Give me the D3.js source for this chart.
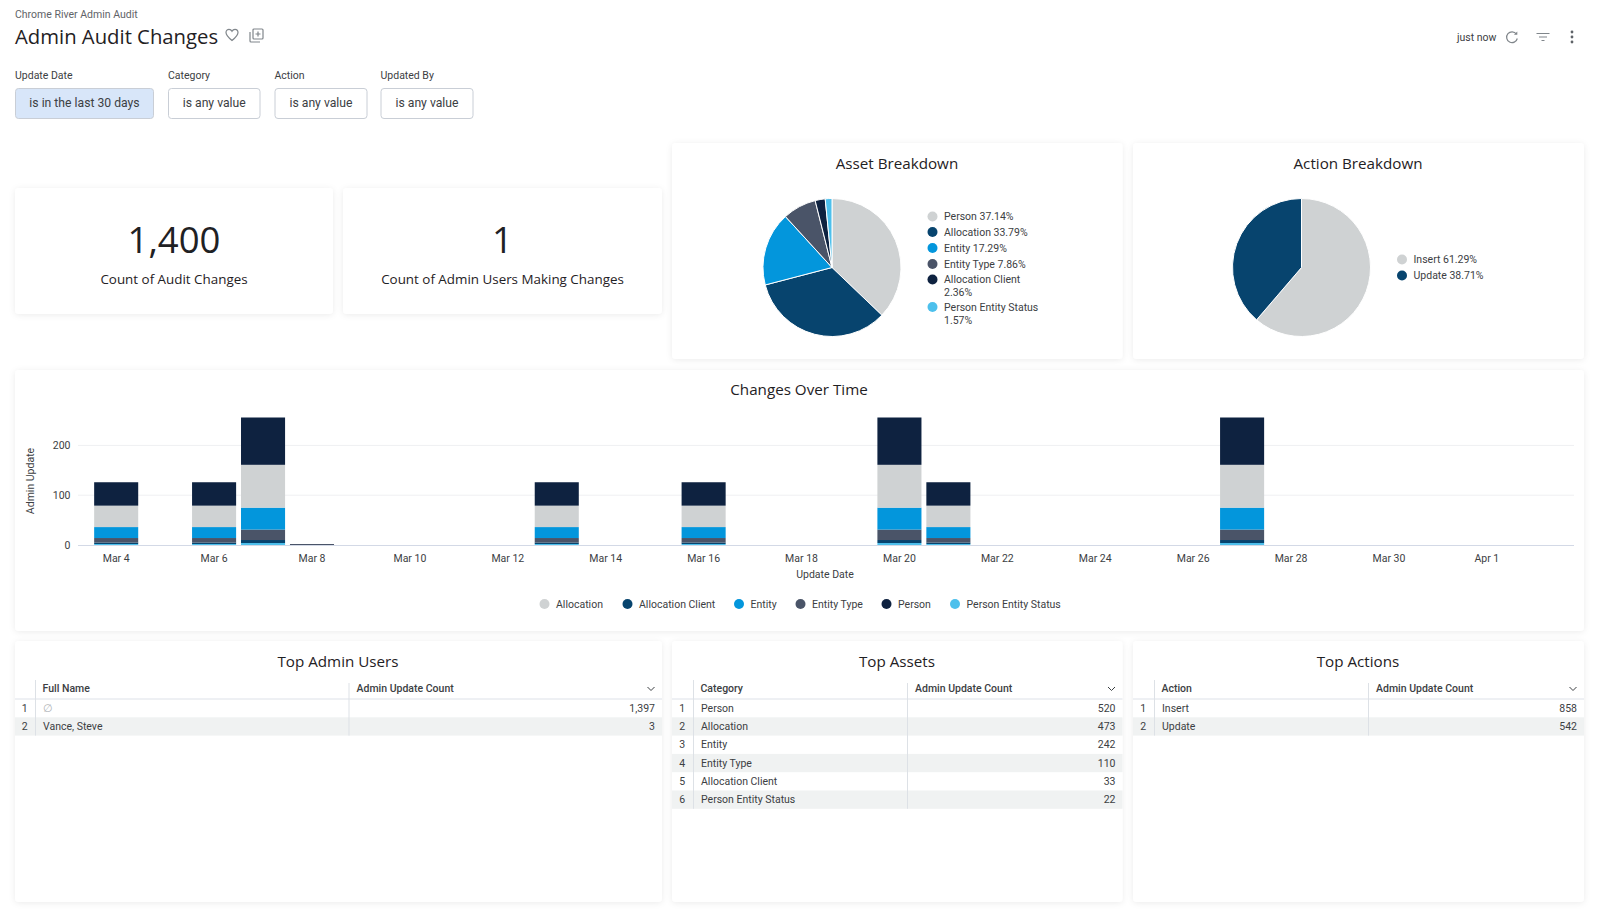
<!DOCTYPE html>
<html>
<head>
<meta charset="utf-8">
<title>Admin Audit Changes</title>
<script src="https://cdn.jsdelivr.net/npm/d3@7"></script>
<style>
  html, body { margin: 0; padding: 0; background: #ffffff; }
  svg { display: block; }
  text { font-family: Roboto, sans-serif; fill: #3c4043; }
  .heading { font-family: "Open Sans", sans-serif; fill: #1f2124; }
</style>
</head>
<body>
<svg id="page" width="1600" height="909"></svg>
<script>
// chart data
const assetCategories = ['Person', 'Allocation', 'Entity', 'Entity Type', 'Allocation Client', 'Person Entity Status'];
const assetCounts = [520, 473, 242, 110, 33, 22];
const actionCategories = ['Insert', 'Update'];
const actionCounts = [858, 542];
const userNames = ['∅', 'Vance, Steve'];
const userCounts = [1397, 3];

const dayLabels = ['Mar 4', 'Mar 5', 'Mar 6', 'Mar 7', 'Mar 8', 'Mar 9', 'Mar 10', 'Mar 11', 'Mar 12', 'Mar 13',
  'Mar 14', 'Mar 15', 'Mar 16', 'Mar 17', 'Mar 18', 'Mar 19', 'Mar 20', 'Mar 21', 'Mar 22', 'Mar 23', 'Mar 24',
  'Mar 25', 'Mar 26', 'Mar 27', 'Mar 28', 'Mar 29', 'Mar 30', 'Mar 31', 'Apr 1', 'Apr 2'];
const barDays = ['Mar 4', 'Mar 6', 'Mar 7', 'Mar 8', 'Mar 13', 'Mar 16', 'Mar 20', 'Mar 21', 'Mar 27'];
const personStatusByDay = [2, 2, 4, 0, 2, 2, 4, 2, 4];
const allocClientByDay = [3, 3, 6, 0, 3, 3, 6, 3, 6];
const entityTypeByDay = [9, 9, 21, 2, 9, 9, 21, 9, 21];
const entityByDay = [22, 22, 44, 0, 22, 22, 44, 22, 44];
const allocationByDay = [43, 43, 86, 0, 43, 43, 86, 43, 86];
const personByDay = [47, 47, 95, 0, 47, 47, 95, 47, 95];
const yTicks = [0, 100, 200];

const legendNames = ['Allocation', 'Allocation Client', 'Entity', 'Entity Type', 'Person', 'Person Entity Status'];
const filterNames = ['Update Date', 'Category', 'Action', 'Updated By'];
const filterValues = ['is in the last 30 days', 'is any value', 'is any value', 'is any value'];

const color = d3.scaleOrdinal()
  .domain(assetCategories)
  .range(['#0e2240', '#cfd2d3', '#0396dc', '#4a5468', '#07446e', '#4dc0ec']);
const pieColors = ['#cfd2d3', '#07446e', '#0396dc', '#4a5468', '#0e2240', '#4dc0ec'];

const svg = d3.select('#page');
const fmt = d3.format(',');

const defs = svg.append('defs');
const shadow = defs.append('filter').attr('id', 'shadow')
  .attr('x', '-3%').attr('y', '-5%').attr('width', '106%').attr('height', '110%');
shadow.append('feDropShadow').attr('dx', 0).attr('dy', 1).attr('stdDeviation', 3)
  .attr('flood-color', '#000').attr('flood-opacity', 0.08);

function card(x, y, w, h) {
  svg.append('rect').attr('x', x).attr('y', y).attr('width', w).attr('height', h)
    .attr('rx', 4).attr('fill', '#fff').attr('filter', 'url(#shadow)');
}

function heading(x, y, label) {
  svg.append('text').attr('class', 'heading').attr('x', x).attr('y', y)
    .attr('text-anchor', 'middle').attr('dominant-baseline', 'central')
    .attr('font-size', 15.2).text(label);
}

// page header
svg.append('text').attr('x', 15).attr('y', 14).attr('dominant-baseline', 'central')
  .attr('font-size', 10.5).style('fill', '#5f6368').text('Chrome River Admin Audit');
svg.append('text').attr('class', 'heading').attr('x', 15).attr('y', 35.5).attr('dominant-baseline', 'central')
  .attr('font-size', 20.3).text('Admin Audit Changes');

const iconStyle = g => g.attr('fill', 'none').attr('stroke', '#80868b').attr('stroke-width', 1.2);
svg.append('path').attr('transform', 'translate(226,29)').call(iconStyle)
  .attr('d', 'M6 11.5 C1 7.5 0 5.5 0 3.5 C0 1.5 1.5 0.3 3 0.3 C4.3 0.3 5.4 1 6 2.2 C6.6 1 7.7 0.3 9 0.3 C10.5 0.3 12 1.5 12 3.5 C12 5.5 11 7.5 6 11.5 Z');
svg.append('g').attr('transform', 'translate(250,29)').call(iconStyle).call(g => {
  g.append('rect').attr('x', 3).attr('y', 0).attr('width', 10).attr('height', 10).attr('rx', 1);
  g.append('path').attr('d', 'M0 3 V12 a1 1 0 0 0 1 1 H10 M8 2.5 V7.5 M5.5 5 H10.5');
});

svg.append('text').attr('x', 1457).attr('y', 37).attr('dominant-baseline', 'central')
  .attr('font-size', 10.5).text('just now');
svg.append('g').attr('transform', 'translate(1512,37)').call(iconStyle).call(g => {
  g.append('path').attr('d', 'M4.4 -3 A5.4 5.4 0 1 0 5.3 1.5');
  g.append('path').attr('d', 'M5.3 -5.6 V-2.2 H1.9 Z').attr('fill', '#80868b').attr('stroke', 'none');
});
svg.append('g').attr('transform', 'translate(1543,37)').call(iconStyle).call(g => {
  g.append('path').attr('d', 'M-6.5 -3.5 H6.5 M-4 0 H4 M-1.5 3.5 H1.5');
});
svg.append('g').attr('transform', 'translate(1572,37)').selectAll('circle').data([-5, 0, 5]).join('circle')
  .attr('cy', d => d).attr('r', 1.4).attr('fill', '#5f6368');

// filter pills
const filterX = [15, 168, 274.5, 380.5];
const filterW = [138, 91.5, 92, 92];
filterNames.forEach((name, i) => {
  svg.append('text').attr('x', filterX[i]).attr('y', 75).attr('dominant-baseline', 'central')
    .attr('font-size', 10.5).text(name);
  svg.append('rect').attr('x', filterX[i] + 0.5).attr('y', 88.5).attr('width', filterW[i]).attr('height', 30)
    .attr('rx', 3).attr('fill', i === 0 ? '#d8e6f9' : '#fff').attr('stroke', '#c9ced6');
  svg.append('text').attr('x', filterX[i] + filterW[i] / 2 + 0.5).attr('y', 103).attr('text-anchor', 'middle')
    .attr('dominant-baseline', 'central').attr('font-size', 12.2).text(filterValues[i]);
});

// single value tiles
function tile(x, w, value, label) {
  card(x, 188, w, 126);
  svg.append('text').attr('class', 'heading').attr('x', x + w / 2).attr('y', 239).attr('text-anchor', 'middle')
    .attr('dominant-baseline', 'central').attr('font-size', 36.5).text(value);
  svg.append('text').attr('class', 'heading').attr('x', x + w / 2).attr('y', 278.5).attr('text-anchor', 'middle')
    .attr('dominant-baseline', 'central').attr('font-size', 13.4).text(label);
}
tile(15, 318, fmt(d3.sum(assetCounts)), 'Count of Audit Changes');
tile(343, 319, '1', 'Count of Admin Users Making Changes');

// pies
function pieChart(cx, cy, names, counts, legendX, legendRows) {
  const total = d3.sum(counts);
  const arcs = d3.pie().sort(null)(counts);
  const arc = d3.arc().innerRadius(0).outerRadius(69);
  svg.append('g').attr('transform', `translate(${cx},${cy})`)
    .selectAll('path').data(arcs).join('path')
    .attr('d', arc).attr('fill', (d, i) => pieColors[i]).attr('stroke', '#fff').attr('stroke-width', 1);

  const pct = d3.format('.2f');
  names.forEach((name, i) => {
    const row = legendRows[i];
    const label = `${name} ${pct(counts[i] / total * 100)}%`;
    svg.append('circle').attr('cx', legendX).attr('cy', row.y).attr('r', 5).attr('fill', pieColors[i]);
    if (row.wrap) {
      svg.append('text').attr('x', legendX + 11.5).attr('y', row.y).attr('dominant-baseline', 'central')
        .attr('font-size', 10.5).text(name);
      svg.append('text').attr('x', legendX + 11.5).attr('y', row.y + 13).attr('dominant-baseline', 'central')
        .attr('font-size', 10.5).text(`${pct(counts[i] / total * 100)}%`);
    } else {
      svg.append('text').attr('x', legendX + 11.5).attr('y', row.y).attr('dominant-baseline', 'central')
        .attr('font-size', 10.5).text(label);
    }
  });
}

card(672, 143, 450.5, 216);
heading(897, 162.5, 'Asset Breakdown');
pieChart(832, 267.5, assetCategories, assetCounts, 932.5, [
  { y: 216.5 }, { y: 232 }, { y: 248 }, { y: 264 }, { y: 279.5, wrap: true }, { y: 307, wrap: true }
]);

card(1133, 143, 451, 216);
heading(1358, 162.5, 'Action Breakdown');
pieChart(1301.5, 267.5, actionCategories, actionCounts, 1402, [{ y: 259.5 }, { y: 275.5 }]);

// changes over time
card(15, 370, 1569, 261);
heading(799, 389, 'Changes Over Time');

const x = d3.scaleBand().domain(dayLabels).range([78, 1574]).paddingInner(0.1).paddingOuter(0.33);
const y = d3.scaleLinear().domain([0, 256]).range([545, 417.5]);

svg.append('g').selectAll('line').data(yTicks.slice(1)).join('line')
  .attr('x1', 78).attr('x2', 1574).attr('y1', d => y(d)).attr('y2', d => y(d))
  .attr('stroke', '#eff0f2').attr('stroke-width', 1);

const dayRows = barDays.map((day, i) => ({
  day,
  'Person Entity Status': personStatusByDay[i],
  'Allocation Client': allocClientByDay[i],
  'Entity Type': entityTypeByDay[i],
  'Entity': entityByDay[i],
  'Allocation': allocationByDay[i],
  'Person': personByDay[i]
}));
const stackKeys = ['Person Entity Status', 'Allocation Client', 'Entity Type', 'Entity', 'Allocation', 'Person'];
const stacked = d3.stack().keys(stackKeys)(dayRows);

svg.append('g').selectAll('g').data(stacked).join('g')
  .attr('fill', d => color(d.key))
  .selectAll('rect').data(d => d.filter(v => v[1] > v[0])).join('rect')
  .attr('x', d => x(d.data.day))
  .attr('width', x.bandwidth())
  .attr('y', d => y(d[1]))
  .attr('height', d => y(d[0]) - y(d[1]));

svg.append('line').attr('x1', 78).attr('x2', 1574).attr('y1', 545.5).attr('y2', 545.5)
  .attr('stroke', '#d3d9e6').attr('stroke-width', 1);

const xAxis = svg.append('g').attr('transform', 'translate(0,545)')
  .call(d3.axisBottom(x).tickValues(dayLabels.filter((d, i) => i % 2 === 0)).tickSize(0).tickPadding(10));
xAxis.select('.domain').remove();
xAxis.selectAll('text').attr('font-size', 10.5).style('font-family', 'Roboto, sans-serif').style('fill', '#3c4043');

const yAxis = svg.append('g').attr('transform', 'translate(70.5,0)')
  .call(d3.axisLeft(y).tickValues(yTicks).tickSize(0).tickPadding(0));
yAxis.select('.domain').remove();
yAxis.selectAll('text').attr('font-size', 10.5).style('font-family', 'Roboto, sans-serif').style('fill', '#3c4043');

svg.append('text').attr('transform', 'translate(30.5,481) rotate(-90)').attr('text-anchor', 'middle')
  .attr('dominant-baseline', 'central').attr('font-size', 10.5).text('Admin Update');
svg.append('text').attr('x', 825).attr('y', 574.5).attr('text-anchor', 'middle')
  .attr('dominant-baseline', 'central').attr('font-size', 10.5).text('Update Date');

const legendDotX = [544.5, 627.5, 739, 800.5, 886.5, 955];
legendNames.forEach((name, i) => {
  svg.append('circle').attr('cx', legendDotX[i]).attr('cy', 604).attr('r', 5).attr('fill', pieColors[i]);
  svg.append('text').attr('x', legendDotX[i] + 11.5).attr('y', 604).attr('dominant-baseline', 'central')
    .attr('font-size', 10.5).text(name);
});

// tables
function table(opts) {
  const { left, width, titleX, title, col1, col2, names, counts, line1, line2 } = opts;
  card(left, 641, width, 261);
  heading(titleX, 660.5, title);
  const right = left + width;
  const rowH = 18.3;
  const top = 699;

  const rows = d3.range(names.length);
  svg.append('g').selectAll('rect').data(rows.filter(i => i % 2 === 1)).join('rect')
    .attr('x', left).attr('width', width).attr('y', i => top + i * rowH).attr('height', rowH)
    .attr('fill', '#f0f2f2');

  const bottom = top + names.length * rowH;
  svg.append('line').attr('x1', left).attr('x2', right).attr('y1', top).attr('y2', top)
    .attr('stroke', '#dde1e8').attr('stroke-width', 1);
  svg.append('line').attr('x1', line1).attr('x2', line1).attr('y1', 680).attr('y2', bottom).attr('stroke', '#dde1e6');
  svg.append('line').attr('x1', line2).attr('x2', line2).attr('y1', 683).attr('y2', bottom).attr('stroke', '#dde1e6');

  svg.append('text').attr('x', line1 + 7).attr('y', 688.5).attr('dominant-baseline', 'central')
    .attr('font-size', 10.5).attr('font-weight', 500).text(col1);
  svg.append('text').attr('x', line2 + 7.5).attr('y', 688.5).attr('dominant-baseline', 'central')
    .attr('font-size', 10.5).attr('font-weight', 500).text(col2);
  svg.append('path').attr('transform', `translate(${right - 11},688.5)`)
    .attr('d', 'M-3.5 -1.5 L0 2 L3.5 -1.5').attr('fill', 'none').attr('stroke', '#3c4043').attr('stroke-width', 1);

  rows.forEach(i => {
    const cy = top + (i + 0.5) * rowH;
    svg.append('text').attr('x', (left + line1) / 2 - 0.5).attr('y', cy).attr('text-anchor', 'middle')
      .attr('dominant-baseline', 'central').attr('font-size', 10.5).text(i + 1);
    svg.append('text').attr('x', line1 + 7.5).attr('y', cy).attr('dominant-baseline', 'central')
      .attr('font-size', 10.5).style('fill', names[i] === '∅' ? '#b0b4b8' : '#3c4043').text(names[i]);
    svg.append('text').attr('x', right - 7).attr('y', cy).attr('text-anchor', 'end')
      .attr('dominant-baseline', 'central').attr('font-size', 10.5).text(fmt(counts[i]));
  });
}

table({ left: 15, width: 647, titleX: 338, title: 'Top Admin Users', col1: 'Full Name', col2: 'Admin Update Count',
  names: userNames, counts: userCounts, line1: 35.5, line2: 349 });
table({ left: 672, width: 450.5, titleX: 897, title: 'Top Assets', col1: 'Category', col2: 'Admin Update Count',
  names: assetCategories, counts: assetCounts, line1: 693.5, line2: 907.5 });
table({ left: 1133, width: 451, titleX: 1358, title: 'Top Actions', col1: 'Action', col2: 'Admin Update Count',
  names: actionCategories, counts: actionCounts, line1: 1154.5, line2: 1368.5 });
</script>
</body>
</html>
